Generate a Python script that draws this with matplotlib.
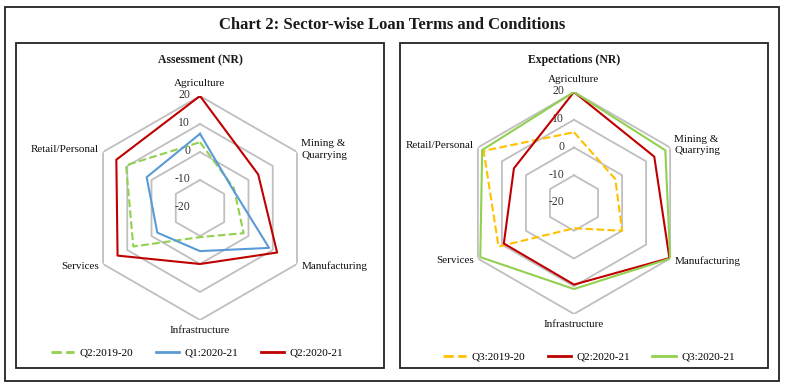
import numpy as np
import matplotlib
matplotlib.use('Agg')
import matplotlib.pyplot as plt
from matplotlib.patches import Rectangle
from matplotlib.lines import Line2D

plt.rcParams['font.family'] = ['Liberation Serif', 'DejaVu Serif']

# data
sectors = ['Agriculture', 'Mining &\nQuarrying', 'Manufacturing',
           'Infrastructure', 'Services', 'Retail/Personal']
ticks = [20, 10, 0, -10, -20]

assess_labels = ['Q2:2019-20', 'Q1:2020-21', 'Q2:2020-21']
assess_q2_1920 = [3.5, -6, -2, -9.6, 7.5, 10.5]
assess_q1_2021 = [6.5, -6.5, 8.5, -4.6, -2.4, 2]
assess_q2_2021 = [20, 4, 11.8, 0, 14, 14.5]

expect_labels = ['Q3:2019-20', 'Q2:2020-21', 'Q3:2020-21']
expect_q3_1920 = [5.5, -2.8, 0, -10.9, 11.4, 17.6]
expect_q2_2021 = [20, 13.4, 19.7, 9.4, 9.2, 5]
expect_q3_2021 = [20, 18, 20, 11, 19, 18.2]

W, H = 786, 389
fig = plt.figure(figsize=(W / 100, H / 100), dpi=100)


def px_rect(x0, y0, x1, y1, lw=1.3):
    fig.patches.append(Rectangle((x0 / W, 1 - y1 / H), (x1 - x0) / W, (y1 - y0) / H,
                                 transform=fig.transFigure, fill=False,
                                 edgecolor='#222222', linewidth=lw))


px_rect(5, 7, 779, 381)
px_rect(16, 43, 384, 368)
px_rect(400, 43, 768, 368)

fig.text(392 / W, 1 - 25 / H, 'Chart 2: Sector-wise Loan Terms and Conditions',
         ha='center', va='center', fontsize=12, fontweight='bold', color='#1a1a1a')


def radar(cx, cy, r, title, series, labels, colors, styles, leg_x, leg_y):
    ax = fig.add_axes([(cx - r) / W, 1 - (cy + r) / H, 2 * r / W, 2 * r / H],
                      projection='polar')
    ax.set_theta_offset(np.pi / 2)
    ax.set_theta_direction(-1)
    ax.set_ylim(-20, 20)
    ax.axis('off')
    angles = np.linspace(0, 2 * np.pi, len(sectors), endpoint=False)
    closed = np.append(angles, angles[0])

    # hexagon grid
    for lev in [-10, 0, 10, 20]:
        ax.plot(closed, [lev] * len(closed), color='#bfbfbf', lw=1.3, zorder=1)
    for t in ticks:
        ax.annotate(str(t), (0, t), xytext=(-7, 0.5), textcoords='offset points',
                    ha='right', va='center', fontsize=8.5, color='#333333')

    for vals, c, ls in zip(series, colors, styles):
        v = np.append(vals, vals[0])
        ax.plot(closed, v, color=c, lw=1.5, ls=ls, zorder=3)

    # category labels
    pos = [(24.6, 'center', 'center'), (21.8, 'left', 'center'),
           (21.8, 'left', 'center'), (23.8, 'center', 'center'),
           (21.8, 'right', 'center'), (21.8, 'right', 'center')]
    for a, name, (rr, ha, va) in zip(angles, sectors, pos):
        ax.text(a, rr, name, ha=ha, va=va, fontsize=8, color='#111111',
                clip_on=False, linespacing=1.3)

    fig.text(cx / W, 1 - 60 / H, title, ha='center', va='center',
             fontsize=8.5, fontweight='bold', color='#1a1a1a')

    handles = [Line2D([], [], color=c, lw=2, ls=ls) for c, ls in zip(colors, styles)]
    fig.legend(handles, labels, loc='center', bbox_to_anchor=(leg_x / W, 1 - leg_y / H),
               ncol=3, frameon=False, fontsize=8, handlelength=2.1,
               columnspacing=2.0, handletextpad=0.5)


radar(200, 208, 112, 'Assessment (NR)',
      [assess_q2_1920, assess_q1_2021, assess_q2_2021], assess_labels,
      ['#92d050', '#5b9bd5', '#c00000'], ['--', '-', '-'], 197, 353)
radar(574, 203, 111, 'Expectations (NR)',
      [expect_q3_1920, expect_q2_2021, expect_q3_2021], expect_labels,
      ['#ffc000', '#c00000', '#92d050'], ['--', '-', '-'], 589, 357)

fig.savefig('out.png', dpi=100)
